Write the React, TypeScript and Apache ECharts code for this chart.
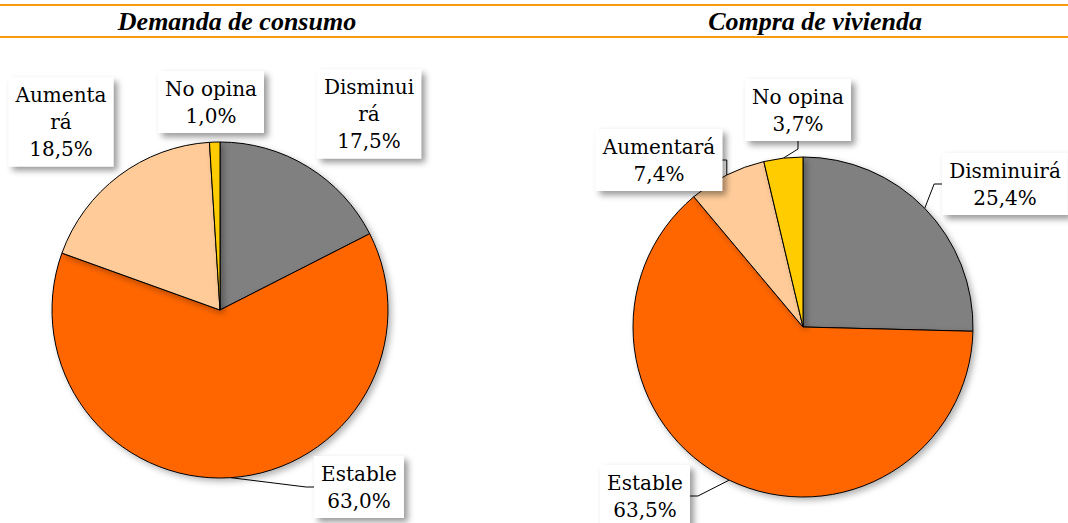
import React, { useEffect, useRef } from "react";
import * as echarts from "echarts";

const categories = ["Disminuirá", "Estable", "Aumentará", "No opina"];
const leftLabelNames = ["Disminui\nrá", "Estable", "Aumenta\nrá", "No opina"];
const rightLabelNames = ["Disminuirá", "Estable", "Aumentará", "No opina"];
const consumoValues = [17.5, 63.0, 18.5, 1.0];
const viviendaValues = [25.4, 63.5, 7.4, 3.7];
const sliceColors = ["#808080", "#FF6600", "#FFCC99", "#FFCC00"];
const titles = ["Demanda de consumo", "Compra de vivienda"];

// label box centres (layout)
const leftLabelPos = [
  [369, 114],
  [359, 487],
  [61, 122],
  [211, 102],
];
const rightLabelPos = [
  [1005, 184],
  [645, 496],
  [659, 160],
  [798, 110],
];
const leftShowLine = [false, true, false, false];

const fmt = (v: number) => v.toFixed(1).replace(".", ",") + "%";

const labelBase = {
  show: true,
  position: "outside",
  fontFamily: "DejaVu Serif",
  fontSize: 20,
  lineHeight: 27,
  color: "#000",
  align: "center",
  backgroundColor: "#fff",
  padding: [4, 7],
  shadowBlur: 6,
  shadowOffsetX: 4,
  shadowOffsetY: 4,
  shadowColor: "rgba(0,0,0,0.4)",
};

export default function App() {
  const ref = useRef<HTMLDivElement>(null);
  useEffect(() => {
    document.body.style.margin = "0";
    const chart = echarts.init(ref.current!, null, { renderer: "svg" });
    const makeSeries = (
      values: number[],
      names: string[],
      pos: number[][],
      center: number[],
      radius: number,
      showLine: boolean[]
    ) => ({
      type: "pie",
      center,
      radius,
      startAngle: 90,
      clockwise: true,
      avoidLabelOverlap: false,
      itemStyle: {
        borderColor: "#000",
        borderWidth: 1,
        shadowBlur: 6,
        shadowOffsetX: 3,
        shadowOffsetY: 3,
        shadowColor: "rgba(0,0,0,0.3)",
      },
      label: {
        ...labelBase,
        formatter: (p: any) => names[p.dataIndex] + "\n" + fmt(p.value),
      },
      labelLine: {
        show: true,
        length: 10,
        length2: 8,
        lineStyle: { color: "#000", width: 1 },
      },
      labelLayout: (p: any) => ({
        x: pos[p.dataIndex][0],
        y: pos[p.dataIndex][1],
        align: "center",
        verticalAlign: "middle",
      }),
      emphasis: { disabled: true },
      data: values.map((v, i) => ({
        name: categories[i],
        value: v,
        itemStyle: { color: sliceColors[i] },
        labelLine: { show: showLine[i] },
      })),
    });

    const titleStyle = {
      fontFamily: "Liberation Serif",
      fontWeight: "bold",
      fontStyle: "italic",
      fontSize: 26,
      fill: "#000",
      align: "center",
      verticalAlign: "middle",
    };

    chart.setOption({
      animation: false,
      graphic: [
        {
          type: "line",
          shape: { x1: 0, y1: 5, x2: 1068, y2: 5 },
          style: { stroke: "#F99B0C", lineWidth: 2 },
        },
        {
          type: "line",
          shape: { x1: 0, y1: 37, x2: 1068, y2: 37 },
          style: { stroke: "#F99B0C", lineWidth: 2 },
        },
        { type: "text", x: 237, y: 21, style: { ...titleStyle, text: titles[0] } },
        { type: "text", x: 815, y: 21, style: { ...titleStyle, text: titles[1] } },
      ],
      series: [
        makeSeries(consumoValues, leftLabelNames, leftLabelPos, [220, 310], 168, leftShowLine),
        makeSeries(viviendaValues, rightLabelNames, rightLabelPos, [803, 327], 170, [true, true, true, true]),
      ],
    });
    return () => chart.dispose();
  }, []);
  return (
    <div
      ref={ref}
      style={{ position: "absolute", left: 0, top: 0, width: 1068, height: 523, background: "#fff" }}
    />
  );
}
